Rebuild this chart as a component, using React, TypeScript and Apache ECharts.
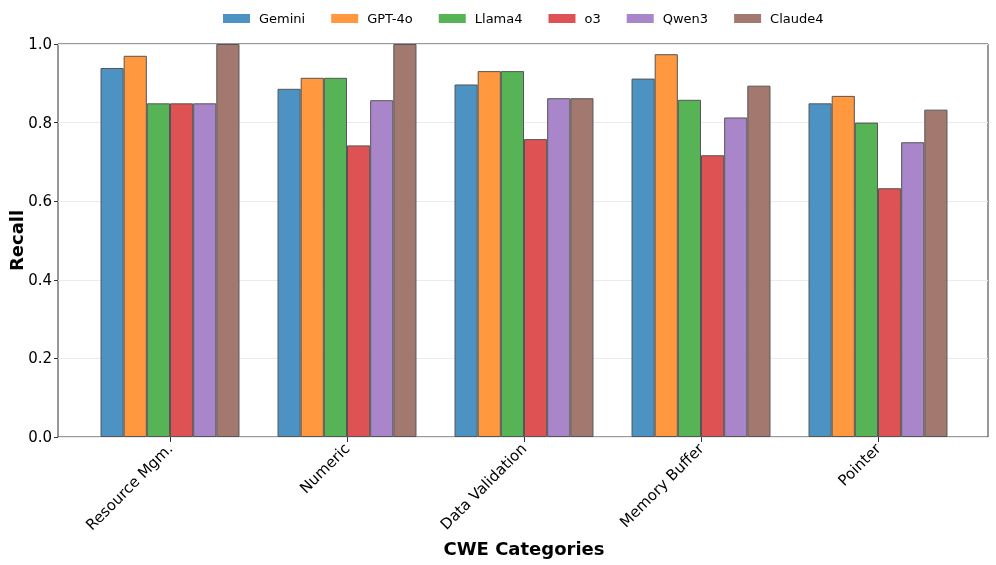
import React, { useEffect, useRef } from "react";
import * as echarts from "echarts";

const categories = ["Resource Mgm.", "Numeric", "Data Validation", "Memory Buffer", "Pointer"];
const models = ["Gemini", "GPT-4o", "Llama4", "o3", "Qwen3", "Claude4"];
const gemini = [0.939, 0.886, 0.897, 0.912, 0.849];
const gpt4o = [0.970, 0.914, 0.931, 0.974, 0.868];
const llama4 = [0.849, 0.914, 0.931, 0.858, 0.800];
const o3 = [0.849, 0.742, 0.758, 0.717, 0.633];
const qwen3 = [0.849, 0.857, 0.862, 0.813, 0.750];
const claude4 = [1.0, 1.0, 0.862, 0.894, 0.833];
const yTicks = [0, 0.2, 0.4, 0.6, 0.8, 1.0];

const colors = ["#4c92c3", "#ff983e", "#56b356", "#de5253", "#a985ca", "#a3786f"];
const FONT = "DejaVu Sans";

export default function App() {
  const ref = useRef<HTMLDivElement>(null);
  useEffect(() => {
    if (!ref.current) return;
    const chart = echarts.init(ref.current, undefined, { renderer: "svg" });
    const values = [gemini, gpt4o, llama4, o3, qwen3, claude4];
    chart.setOption({
      animation: false,
      textStyle: { fontFamily: FONT },
      legend: {
        top: 7,
        left: 218,
        icon: "rect",
        itemWidth: 27,
        itemHeight: 9,
        itemGap: 26,
        itemStyle: { borderWidth: 0 },
        textStyle: { fontFamily: FONT, fontSize: 13, color: "#000", padding: [0, 0, 0, 4] },
        data: models,
      },
      grid: [
        { left: 58, right: 8, top: 44, bottom: 128, show: true, borderColor: "#333", borderWidth: 1, backgroundColor: "transparent", outerBoundsMode: "none", containLabel: false },
        { left: 81.5, width: 885, top: 44, bottom: 128, outerBoundsMode: "none", containLabel: false },
      ],
      xAxis: [
        { type: "value", gridIndex: 0, min: 0, max: 1, show: false },
        {
          type: "category",
          gridIndex: 1,
          data: categories,
          axisLine: { show: false },
          axisTick: { show: true, alignWithLabel: true, length: 5, lineStyle: { color: "#333" } },
          axisLabel: { rotate: 45, fontSize: 15, color: "#000", fontFamily: FONT, margin: 9 },
          name: "CWE Categories",
          nameLocation: "middle",
          nameGap: 102,
          nameTextStyle: { fontSize: 18, fontWeight: "bold", color: "#000", fontFamily: FONT },
        },
      ],
      yAxis: [
        {
          type: "value",
          gridIndex: 0,
          min: 0,
          max: 1,
          interval: 0.2,
          axisLine: { show: false },
          axisTick: { show: true, length: 4, lineStyle: { color: "#333" } },
          axisLabel: {
            fontSize: 15,
            color: "#000",
            fontFamily: FONT,
            margin: 6,
            formatter: (v: number) => {
              const t = yTicks.find((x) => Math.abs(x - v) < 1e-6);
              return (t !== undefined ? t : v).toFixed(1);
            },
          },
          splitLine: { show: true, lineStyle: { color: "#ebebeb", width: 1 } },
          name: "Recall",
          nameLocation: "middle",
          nameGap: 33,
          nameMoveOverlap: false,
          nameTextStyle: { fontSize: 18, fontWeight: "bold", color: "#000", fontFamily: FONT },
        },
        { type: "value", gridIndex: 1, min: 0, max: 1, show: false },
      ],
      series: models.map((m, i) => ({
        name: m,
        type: "bar",
        xAxisIndex: 1,
        yAxisIndex: 1,
        data: values[i],
        barGap: "0%",
        barCategoryGap: "21.5%",
        itemStyle: { color: colors[i], borderColor: "#555", borderWidth: 1 },
      })),
    });
    return () => chart.dispose();
  }, []);
  return <div ref={ref} style={{ position: "fixed", left: 0, top: 0, width: 996, height: 565 }} />;
}
